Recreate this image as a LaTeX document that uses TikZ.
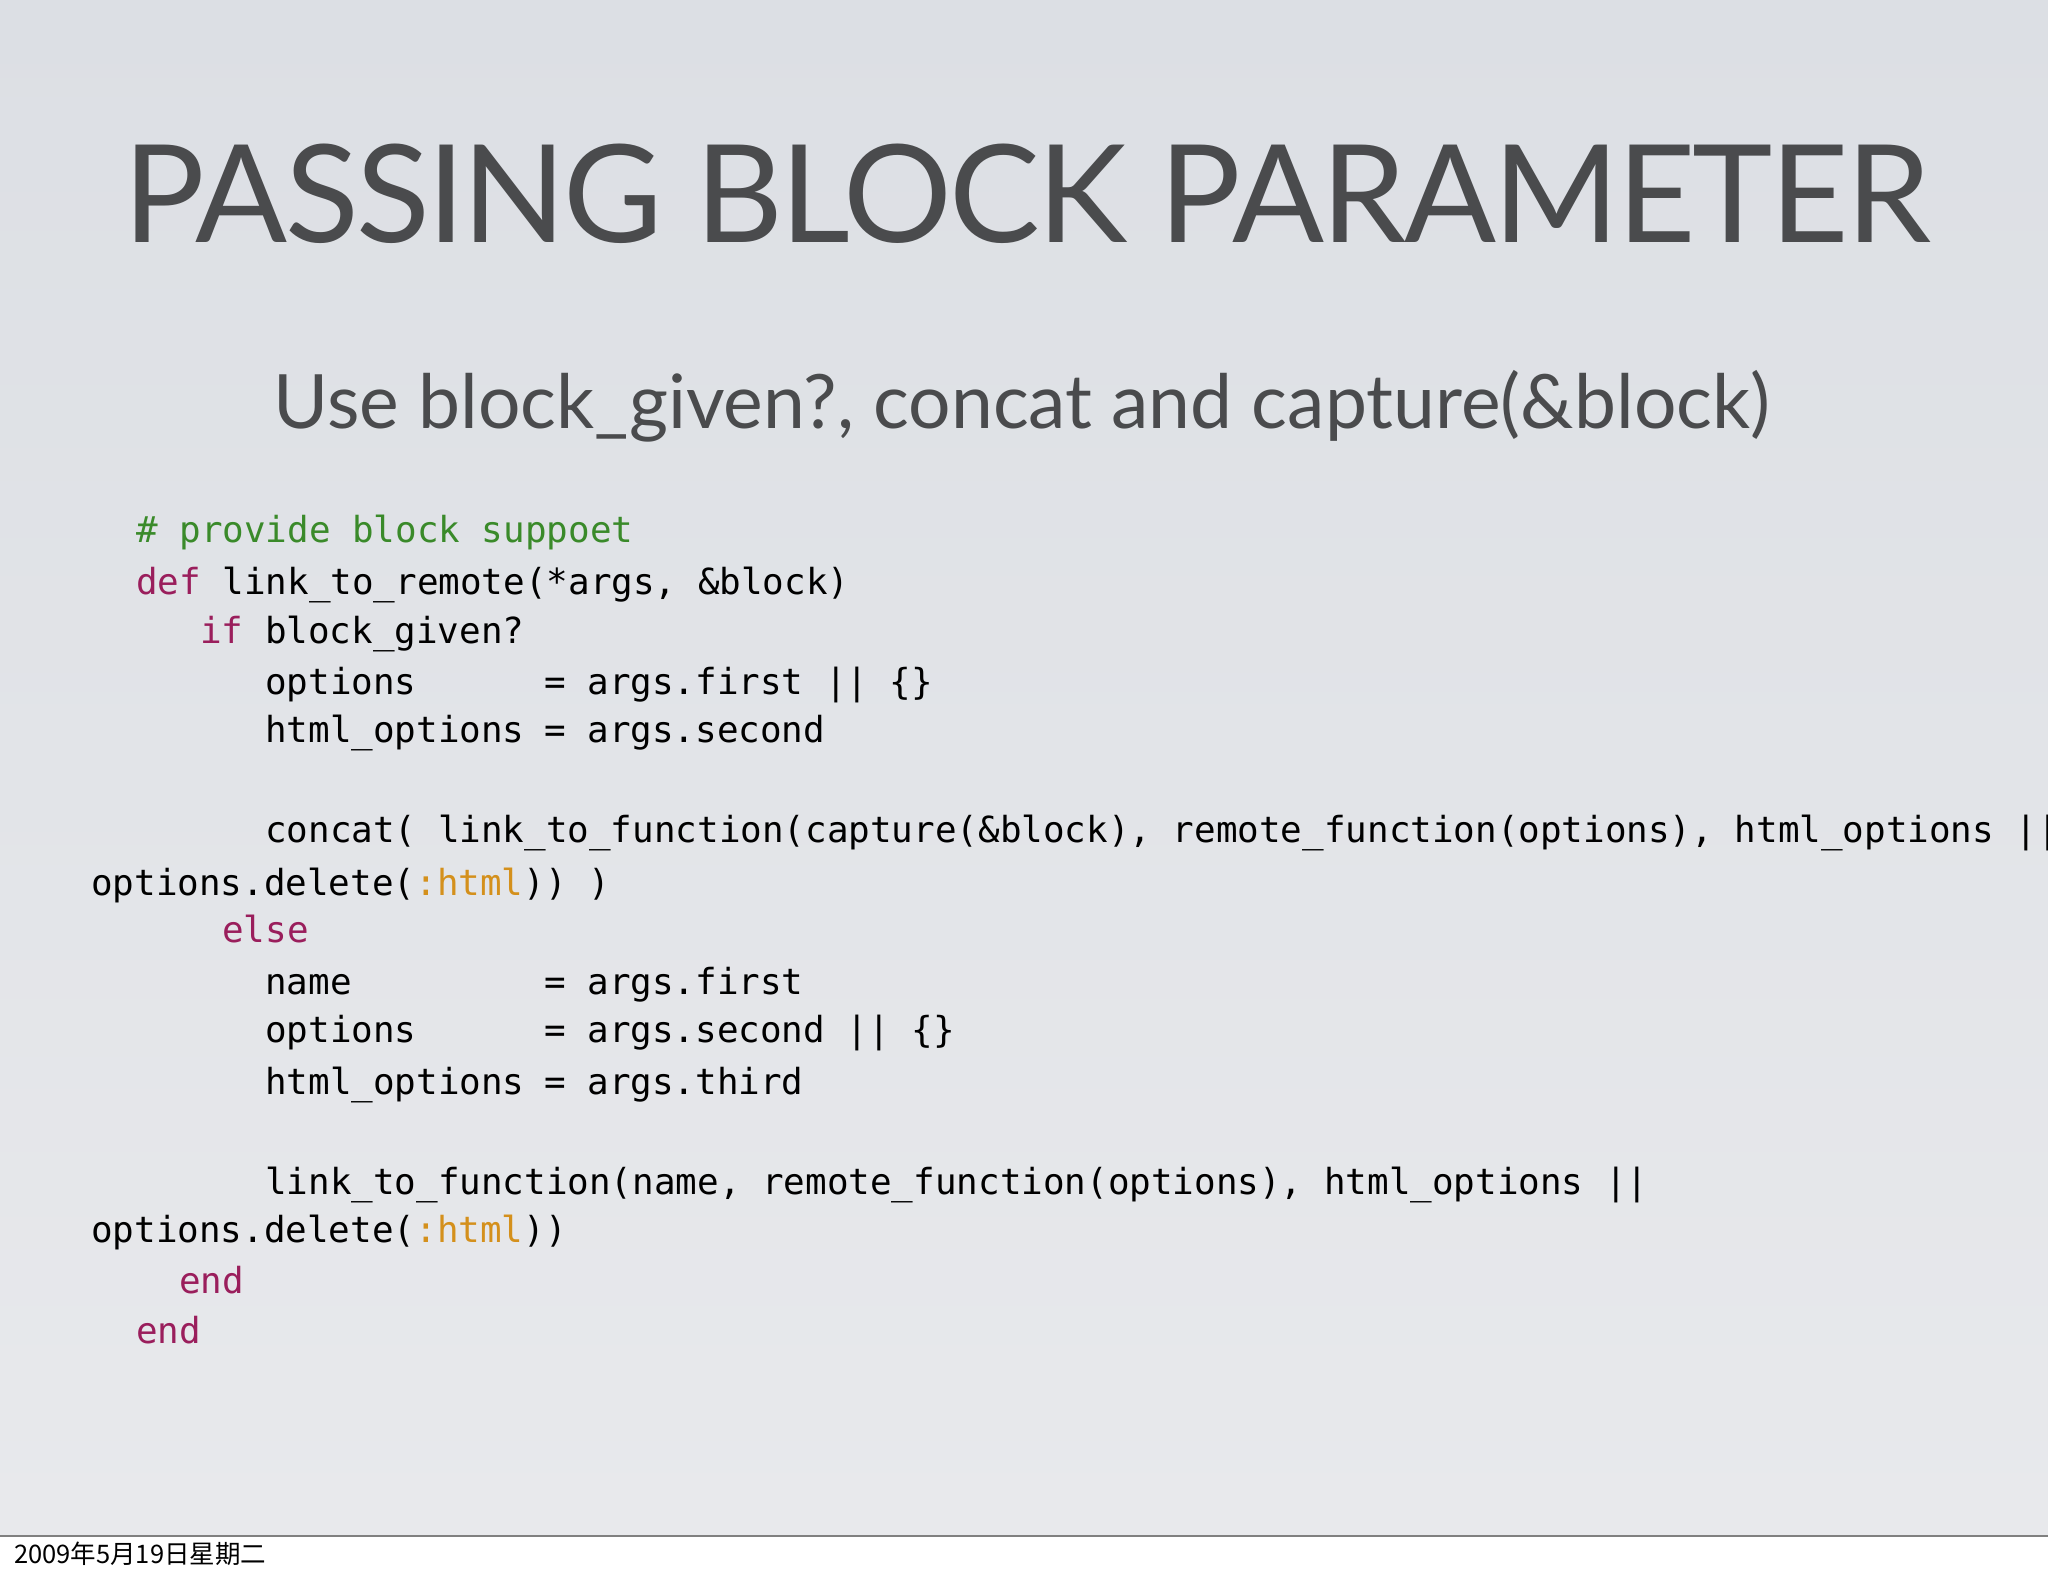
\documentclass[tikz,border=0pt]{standalone}
\usepackage{fontspec}
\setmainfont{Lato}
\setmonofont{DejaVu Sans Mono}
\newfontfamily\cjk{Noto Sans CJK SC}
\definecolor{ttl}{HTML}{4A4B4D}
\definecolor{cmt}{HTML}{3A8A2A}
\definecolor{kw}{HTML}{9A1E5C}
\definecolor{sym}{HTML}{D4901C}
\definecolor{bgtop}{HTML}{DCDFE4}
\definecolor{bgbot}{HTML}{E8E9EC}
\tikzset{code/.style={anchor=base west,inner sep=0pt,font=\fontsize{35.9}{40}\ttfamily,text=black}}
\begin{document}
\begin{tikzpicture}[x=1pt,y=-1pt]
\useasboundingbox (0,0) rectangle (2048,1576);
\fill[white] (0,0) rectangle (2048,1576);
\shade[top color=bgtop,bottom color=bgbot] (0,0) rectangle (2048,1536);
\draw[gray,line width=1.2pt] (0,1536) -- (2048,1536);
\node[anchor=base,inner sep=0pt,text=ttl,font=\fontsize{136}{150}\selectfont\addfontfeatures{LetterSpace=-2}] (title) at (1027,242) {PASSING BLOCK PARAMETER};
\node[anchor=base,inner sep=0pt,text=ttl,font=\fontsize{75}{90}\selectfont] (sub) at (1022,428) {Use block\_given?, concat and capture(\&block)};
\node[code,text=cmt] (l1) at (136,542) {\# provide block suppoet};
\node[code] (l2) at (136,594) {\textcolor{kw}{def} link\_to\_remote(*args, \&block)};
\node[code] (l3) at (200,643) {\textcolor{kw}{if} block\_given?};
\node[code] (l4) at (265,694) {options};
\node[code] (l4b) at (544,694) {= args.first || \{\}};
\node[code] (l5) at (265,742) {html\_options};
\node[code] (l5b) at (544,742) {= args.second};
\node[code] (l6) at (265,842) {concat( link\_to\_function(capture(\&block), remote\_function(options), html\_options ||};
\node[code] (l7) at (91,895) {options.delete(\textcolor{sym}{:html})) )};
\node[code,text=kw] (l8) at (222,942) {else};
\node[code] (l9) at (265,994) {name};
\node[code] (l9b) at (544,994) {= args.first};
\node[code] (l10) at (265,1042) {options};
\node[code] (l10b) at (544,1042) {= args.second || \{\}};
\node[code] (l11) at (265,1094) {html\_options};
\node[code] (l11b) at (544,1094) {= args.third};
\node[code] (l12) at (265,1194) {link\_to\_function(name, remote\_function(options), html\_options ||};
\node[code] (l13) at (91,1242) {options.delete(\textcolor{sym}{:html}))};
\node[code,text=kw] (l14) at (179,1293) {end};
\node[code,text=kw] (l15) at (136,1343) {end};
\node[anchor=base west,inner sep=0pt,font=\cjk\fontsize{25.5}{28}\selectfont] (foot) at (14,1563) {2009年5月19日星期二};
\end{tikzpicture}
\end{document}
